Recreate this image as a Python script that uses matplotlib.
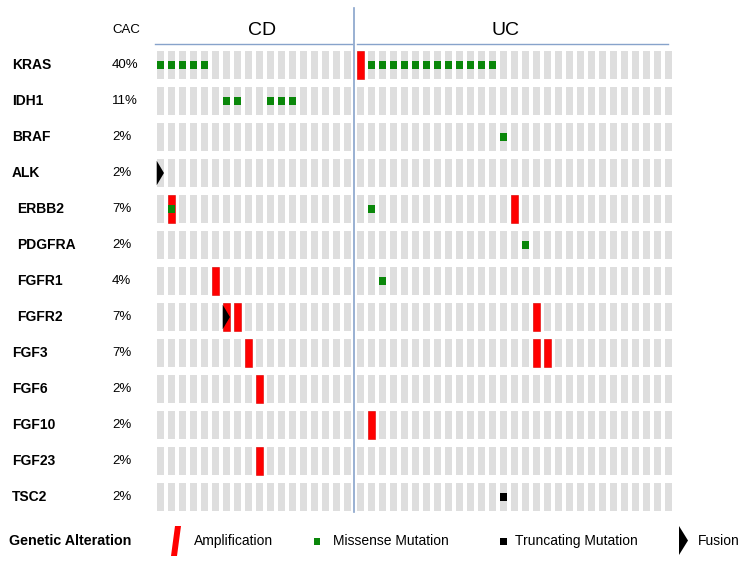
import matplotlib
matplotlib.use('Agg')
import matplotlib.pyplot as plt
from matplotlib.patches import Rectangle, Polygon
import matplotlib.transforms as mtransforms

plt.rcParams['font.family'] = ['Liberation Sans', 'DejaVu Sans']

# ---------------- data ----------------
genes = ['KRAS', 'IDH1', 'BRAF', 'ALK', 'ERBB2', 'PDGFRA', 'FGFR1',
         'FGFR2', 'FGF3', 'FGF6', 'FGF10', 'FGF23', 'TSC2']
cac_pct = ['40%', '11%', '2%', '2%', '7%', '2%', '4%',
           '7%', '7%', '2%', '2%', '2%', '2%']
label_indent = [0, 0, 0, 0, 1, 1, 1, 1, 0, 0, 0, 0, 0]
groups = ['CD', 'UC']
n_samples = {'CD': 18, 'UC': 29}

# (gene, group, sample index within group)
amplification = [('KRAS', 'UC', 0), ('ERBB2', 'CD', 1), ('ERBB2', 'UC', 14),
                 ('FGFR1', 'CD', 5), ('FGFR2', 'CD', 6), ('FGFR2', 'CD', 7),
                 ('FGFR2', 'UC', 16), ('FGF3', 'CD', 8), ('FGF3', 'UC', 16),
                 ('FGF3', 'UC', 17), ('FGF6', 'CD', 9), ('FGF10', 'UC', 1),
                 ('FGF23', 'CD', 9)]
kras_cd_missense = [0, 1, 2, 3, 4]
kras_uc_missense = [1, 2, 3, 4, 5, 6, 7, 8, 9, 10, 11, 12]
idh1_cd_missense = [6, 7, 10, 11, 12]
missense = ([('KRAS', 'CD', i) for i in kras_cd_missense] +
            [('KRAS', 'UC', i) for i in kras_uc_missense] +
            [('IDH1', 'CD', i) for i in idh1_cd_missense] +
            [('BRAF', 'UC', 13), ('ERBB2', 'CD', 1), ('ERBB2', 'UC', 1),
             ('PDGFRA', 'UC', 15), ('FGFR1', 'UC', 2)])
truncating = [('TSC2', 'UC', 13)]
fusion = [('ALK', 'CD', 0), ('FGFR2', 'CD', 6)]

legend_labels = ['Amplification', 'Missense Mutation', 'Truncating Mutation', 'Fusion']

# ---------------- styling ----------------
GRAY = '#dedede'
RED = '#ff0000'
GREEN = '#0a870a'
BLUE = '#87a3cb'
group_gap = 0.18
bar_w = 0.70
bar_h = 0.78

W, H = 750, 566
fig = plt.figure(figsize=(W / 100, H / 100), dpi=100)
ax = fig.add_axes([155.05 / W, 51 / H, 519 / W, 468 / H])

offset = {'CD': 0.0, 'UC': n_samples['CD'] + group_gap}
row = {g: i for i, g in enumerate(genes)}


def xpos(group, k):
    return offset[group] + k


# background cells
for grp in groups:
    for k in range(n_samples[grp]):
        for i in range(len(genes)):
            ax.add_patch(Rectangle((xpos(grp, k) - bar_w / 2, i - bar_h / 2),
                                   bar_w, bar_h, facecolor=GRAY, edgecolor='none'))

# amplifications
for g, grp, k in amplification:
    ax.add_patch(Rectangle((xpos(grp, k) - 0.32, row[g] - bar_h / 2), 0.64, bar_h,
                           facecolor=RED, edgecolor='#e00000', lw=0.4))
# missense
for g, grp, k in missense:
    ax.add_patch(Rectangle((xpos(grp, k) - 0.31, row[g] - 0.115), 0.62, 0.23,
                           facecolor=GREEN, edgecolor='none'))
# truncating
for g, grp, k in truncating:
    ax.add_patch(Rectangle((xpos(grp, k) - 0.31, row[g] - 0.12), 0.62, 0.24,
                           facecolor='black', edgecolor='none'))
# fusion
for g, grp, k in fusion:
    x0 = xpos(grp, k) - 0.35
    y0 = row[g]
    ax.add_patch(Polygon([(x0, y0 - 0.34), (x0, y0 + 0.34), (x0 + 0.66, y0)],
                         closed=True, facecolor='black', edgecolor='none'))

xmax = offset['UC'] + n_samples['UC'] - 0.5
ax.set_xlim(-0.5, xmax)
ax.set_ylim(len(genes) - 0.5, -0.5)
ax.axis('off')

# divider and header lines
ax.plot([17.59, 17.59], [-1.58, 12.42], color=BLUE, lw=1.2, clip_on=False)
ax.plot([-0.5, 17.4], [-0.583, -0.583], color=BLUE, lw=1.0, clip_on=False)
ax.plot([17.86, 46.13], [-0.583, -0.583], color=BLUE, lw=1.0, clip_on=False)

ax.text(9.22, -0.97, groups[0], ha='center', va='center', fontsize=14)
ax.text(31.4, -0.97, groups[1], ha='center', va='center', fontsize=14)

trans = mtransforms.blended_transform_factory(fig.transFigure, ax.transData)
fig.text(112 / W, -0.97, 'CAC', transform=trans, ha='left', va='center', fontsize=9.5)
for i, g in enumerate(genes):
    fig.text((12 + 5 * label_indent[i]) / W, i, g, transform=trans, ha='left',
             va='center', fontsize=10, fontweight='bold')
    fig.text(112 / W, i, cac_pct[i], transform=trans, ha='left', va='center',
             fontsize=9.5)

# legend band
lax = fig.add_axes([0, 0, 1, 51 / H])
lax.set_xlim(0, W)
lax.set_ylim(0, 51)
lax.axis('off')
yc = 25
lax.text(9, yc, 'Genetic Alteration', ha='left', va='center', fontsize=10.3,
         fontweight='bold')
lax.add_patch(Polygon([(171, 10), (177, 10), (181, 40), (175, 40)], closed=True,
                      facecolor=RED, edgecolor='none'))
lax.text(194, yc, legend_labels[0], ha='left', va='center', fontsize=10)
lax.add_patch(Rectangle((313.5, yc - 3.5), 6.5, 7, facecolor=GREEN, edgecolor='none'))
lax.text(333, yc, legend_labels[1], ha='left', va='center', fontsize=10)
lax.add_patch(Rectangle((500, yc - 3.5), 6.5, 7, facecolor='black', edgecolor='none'))
lax.text(515, yc, legend_labels[2], ha='left', va='center', fontsize=10)
lax.add_patch(Polygon([(679, 11), (679, 40), (688, 25.5)], closed=True,
                      facecolor='black', edgecolor='none'))
lax.text(698, yc, legend_labels[3], ha='left', va='center', fontsize=10)

fig.savefig('out.png', dpi=100)
